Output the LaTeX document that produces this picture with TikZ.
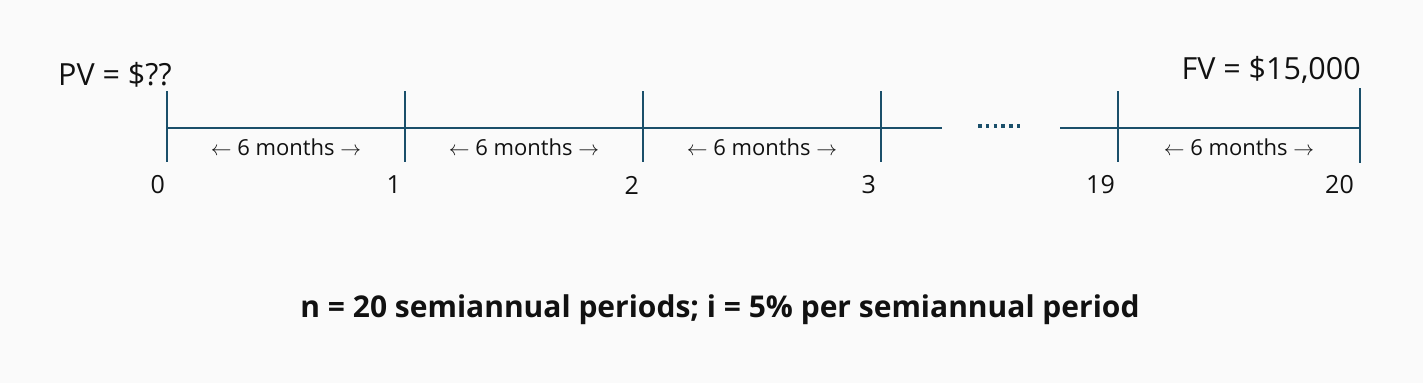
\documentclass[tikz,border=0pt]{standalone}
\usepackage{fontspec}
\setmainfont{Open Sans}
\usetikzlibrary{calc}
\definecolor{linec}{HTML}{1A4F6A}
\definecolor{bgc}{HTML}{FAFAFA}
\definecolor{txt}{HTML}{111111}
\begin{document}
\begin{tikzpicture}[x=1pt,y=-1pt,
  axis/.style={draw=linec,line width=2pt},
  tick/.style={draw=linec,line width=2pt},
  numlab/.style={anchor=east,inner sep=0pt,font=\fontsize{25}{28}\selectfont,text=txt},
  monlab/.style={inner sep=0pt,font=\fontsize{22}{26}\selectfont,text=txt},
  biglab/.style={inner sep=0pt,font=\fontsize{30.5}{34}\selectfont,text=txt},
  note/.style={inner sep=0pt,font=\fontsize{30}{34}\selectfont\bfseries,text=txt}]
\fill[bgc] (0,0) rectangle (1423,383);
\useasboundingbox (0,0) rectangle (1423,383);
% tick coordinates
\foreach \n/\x in {0/167,1/405,2/643,3/881,19/1118} {
  \coordinate (t\n top) at (\x,91);
  \coordinate (t\n bot) at (\x,162);
  \coordinate (t\n) at (\x,128);
}
\coordinate (t20top) at (1360,88);
\coordinate (t20bot) at (1360,163);
\coordinate (t20) at (1360,128);
\coordinate (gapL) at (942,128);
\coordinate (gapR) at (1060,128);
\coordinate (dotsL) at (978,126);
\coordinate (dotsR) at (1020,126);
% axis
\draw[axis] (t0) -- (gapL);
\draw[axis] (gapR) -- (t20);
\draw[linec,line width=4pt,dash pattern=on 3.5pt off 4.3pt] (dotsL) -- (dotsR);
% ticks
\foreach \n in {0,1,2,3,19,20} {
  \draw[tick] (t\n top) -- (t\n bot);
}
% numbers
\foreach \n/\x in {0/165,1/401,2/639,3/876,19/1115,20/1354} {
  \node[numlab] (n\n) at (\x,185) {\n};
}
% six-months labels
\node[monlab] (m1) at ($(t0)!0.5!(t1)+(0,19)$) {$\leftarrow$ 6 months $\rightarrow$};
\node[monlab] (m2) at ($(t1)!0.5!(t2)+(0,19)$) {$\leftarrow$ 6 months $\rightarrow$};
\node[monlab] (m3) at ($(t2)!0.5!(t3)+(0,19)$) {$\leftarrow$ 6 months $\rightarrow$};
\node[monlab] (m4) at ($(t19)!0.5!(t20)+(0,19)$) {$\leftarrow$ 6 months $\rightarrow$};
% PV / FV
\node[biglab,anchor=west] (pv) at (58,75) {PV = \$??};
\node[biglab,anchor=east] (fv) at (1361,70) {FV = \$15,000};
% note
\node[note] (nt) at (720,310) {n = 20 semiannual periods; i = 5\% per semiannual period};
\end{tikzpicture}
\end{document}
